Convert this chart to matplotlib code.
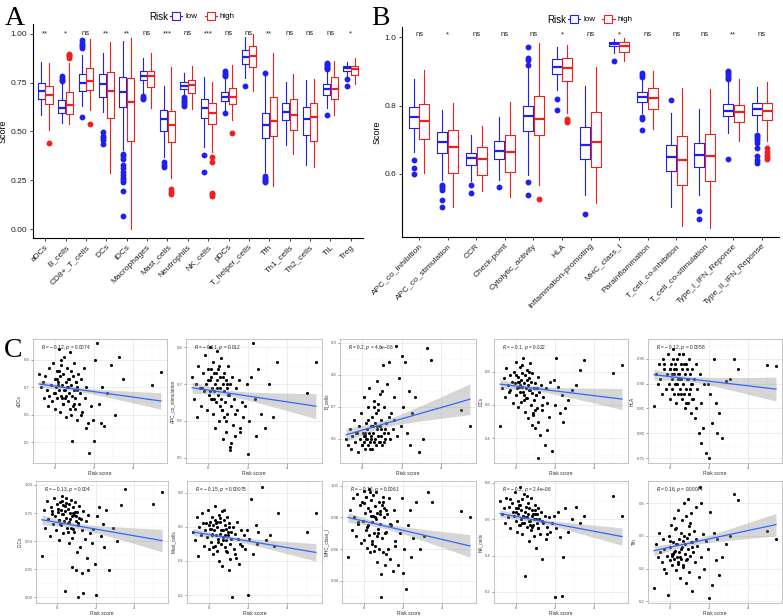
import numpy as np
import matplotlib
matplotlib.use('Agg')
from matplotlib import pyplot as plt
from matplotlib.lines import Line2D
from matplotlib.ticker import FormatStrFormatter, MultipleLocator

plt.rcParams['font.family'] = ['Liberation Sans', 'DejaVu Sans']

BLUE = '#1F1FF0'
RED = '#F02020'

# ---------------- panel A: immune cells (whislo, q1, med, q3, whishi) ----------------
cells = ['aDCs', 'B_cells', 'CD8+_T_cells', 'DCs', 'iDCs', 'Macrophages', 'Mast_cells',
         'Neutrophils', 'NK_cells', 'pDCs', 'T_helper_cells', 'Tfh', 'Th1_cells',
         'Th2_cells', 'TIL', 'Treg']
cells_sig = ['**', '*', 'ns', '**', '**', 'ns', '***', 'ns', '***', 'ns', 'ns', '**',
             'ns', 'ns', 'ns', '*']
cells_low = [
    [0.584, 0.664, 0.707, 0.746, 0.857],
    [0.542, 0.593, 0.622, 0.661, 0.745],
    [0.630, 0.707, 0.750, 0.794, 0.890],
    [0.600, 0.678, 0.743, 0.794, 0.900],
    [0.405, 0.623, 0.704, 0.777, 0.964],
    [0.690, 0.763, 0.784, 0.811, 0.877],
    [0.371, 0.504, 0.562, 0.610, 0.733],
    [0.690, 0.716, 0.734, 0.755, 0.797],
    [0.422, 0.567, 0.618, 0.668, 0.777],
    [0.610, 0.658, 0.678, 0.704, 0.775],
    [0.772, 0.843, 0.879, 0.917, 0.981],
    [0.290, 0.468, 0.533, 0.596, 0.790],
    [0.431, 0.559, 0.601, 0.644, 0.755],
    [0.329, 0.482, 0.562, 0.623, 0.763],
    [0.622, 0.687, 0.716, 0.741, 0.806],
    [0.784, 0.809, 0.823, 0.835, 0.857],
]
cells_low_out = [
    [],
    [0.785, 0.775, 0.765, 0.758],
    [0.967, 0.955, 0.945, 0.935, 0.925, 0.572],
    [0.495, 0.475, 0.465, 0.455, 0.435],
    [0.385, 0.375, 0.36, 0.33, 0.31, 0.29, 0.275, 0.26, 0.25, 0.24, 0.195, 0.065],
    [0.68, 0.672, 0.665],
    [0.345, 0.33, 0.32],
    [0.678, 0.668, 0.658, 0.648, 0.638, 0.628],
    [0.38, 0.29],
    [0.81, 0.80, 0.79, 0.785, 0.596],
    [0.734],
    [0.80, 0.27, 0.26, 0.25, 0.245, 0.24],
    [],
    [],
    [0.852, 0.845, 0.838, 0.831, 0.824, 0.818, 0.584],
    [0.766, 0.734],
]
cells_high = [
    [0.505, 0.642, 0.687, 0.734, 0.852],
    [0.538, 0.589, 0.634, 0.700, 0.850],
    [0.610, 0.712, 0.756, 0.826, 0.971],
    [0.286, 0.569, 0.705, 0.806, 0.956],
    [0.000, 0.453, 0.652, 0.775, 0.980],
    [0.618, 0.729, 0.782, 0.811, 0.903],
    [0.260, 0.445, 0.535, 0.605, 0.831],
    [0.613, 0.698, 0.736, 0.763, 0.835],
    [0.397, 0.537, 0.593, 0.644, 0.755],
    [0.560, 0.641, 0.678, 0.721, 0.840],
    [0.709, 0.831, 0.886, 0.939, 1.000],
    [0.218, 0.474, 0.555, 0.678, 0.900],
    [0.385, 0.508, 0.584, 0.666, 0.794],
    [0.320, 0.453, 0.572, 0.647, 0.768],
    [0.584, 0.666, 0.716, 0.777, 0.860],
    [0.743, 0.787, 0.820, 0.836, 0.877],
]
cells_high_out = [
    [0.44], [0.898, 0.892, 0.886, 0.878], [0.538], [], [], [],
    [0.205, 0.19, 0.18], [], [0.37, 0.345, 0.185, 0.178, 0.17], [0.494],
    [], [], [], [], [], [],
]

# ---------------- panel B: immune functions ----------------
funcs = ['APC_co_inhibition', 'APC_co_stimulation', 'CCR', 'Check-point',
         'Cytolytic_activity', 'HLA', 'Inflammation-promoting', 'MHC_class_I',
         'Parainflammation', 'T_cell_co-inhibition', 'T_cell_co-stimulation',
         'Type_I_IFN_Reponse', 'Type_II_IFN_Reponse']
funcs_sig = ['ns', '*', 'ns', 'ns', 'ns', '*', 'ns', '*', 'ns', 'ns', 'ns', '**', 'ns']
funcs_low = [
    [0.665, 0.734, 0.765, 0.795, 0.877],
    [0.582, 0.660, 0.692, 0.722, 0.787],
    [0.578, 0.626, 0.646, 0.662, 0.714],
    [0.582, 0.643, 0.668, 0.695, 0.765],
    [0.597, 0.726, 0.768, 0.799, 0.910],
    [0.846, 0.893, 0.914, 0.937, 0.970],
    [0.539, 0.644, 0.685, 0.736, 0.858],
    [0.953, 0.973, 0.980, 0.985, 0.995],
    [0.778, 0.811, 0.824, 0.840, 0.875],
    [0.504, 0.607, 0.648, 0.683, 0.778],
    [0.539, 0.619, 0.656, 0.690, 0.789],
    [0.721, 0.768, 0.785, 0.805, 0.870],
    [0.724, 0.773, 0.791, 0.807, 0.854],
]
funcs_low_out = [
    [0.641, 0.617, 0.600],
    [0.568, 0.563, 0.558, 0.553, 0.524, 0.504],
    [0.566, 0.545],
    [0.560],
    [0.970, 0.939, 0.932, 0.919, 0.575, 0.538],
    [0.819, 0.787],
    [0.483],
    [0.929],
    [0.895, 0.890, 0.885, 0.765, 0.760, 0.729],
    [0.815],
    [0.490, 0.467],
    [0.902, 0.897, 0.892, 0.887, 0.882, 0.877, 0.643],
    [0.715, 0.710, 0.705, 0.700, 0.690, 0.675, 0.652, 0.640, 0.633],
]
funcs_high = [
    [0.602, 0.701, 0.756, 0.804, 0.904],
    [0.502, 0.602, 0.680, 0.727, 0.807],
    [0.550, 0.597, 0.644, 0.680, 0.739],
    [0.532, 0.606, 0.665, 0.714, 0.810],
    [0.566, 0.714, 0.762, 0.829, 0.984],
    [0.778, 0.872, 0.909, 0.940, 0.976],
    [0.516, 0.621, 0.692, 0.782, 0.914],
    [0.931, 0.958, 0.975, 0.987, 0.997],
    [0.730, 0.789, 0.821, 0.851, 0.900],
    [0.448, 0.568, 0.641, 0.711, 0.851],
    [0.441, 0.580, 0.651, 0.717, 0.848],
    [0.695, 0.751, 0.780, 0.802, 0.877],
    [0.695, 0.758, 0.785, 0.807, 0.869],
]
funcs_high_out = [
    [], [], [], [], [0.526], [0.760, 0.756, 0.752], [], [], [], [], [], [],
    [0.677, 0.665, 0.655, 0.648, 0.643],
]

# ---------------- panel C: correlation with risk score ----------------
risk = [
    -0.8, -0.7, -0.62, -0.55, -0.48, -0.4, -0.33, -0.27, -0.21, -0.15,
    -0.1, -0.05, 0.0, 0.04, 0.08, 0.11, 0.14, 0.17, 0.2, 0.23,
    0.26, 0.29, 0.32, 0.35, 0.38, 0.41, 0.44, 0.47, 0.5, 0.53,
    0.56, 0.59, 0.62, 0.65, 0.68, 0.71, 0.74, 0.77, 0.8, 0.83,
    0.86, 0.89, 0.92, 0.95, 0.98, 1.01, 1.05, 1.09, 1.13, 1.17,
    1.21, 1.26, 1.31, 1.36, 1.42, 1.48, 1.55, 1.62, 1.7, 1.78,
    0.02, 0.15, 0.3, 0.45, 0.6, 0.75, 0.9, 1.03, 1.15, 1.35,
    0.1, 0.4, 0.7, 0.97, 0.22, 0.55, 0.82, 1.1, -0.3, 1.6,
    1.86, 1.95, 2.0, 2.05, 2.15, 2.25, 2.38, 2.45, 2.52, 2.7,
    2.9, 3.1, 3.3, 3.5, 5.0, 5.45]

sc_aDCs = [
    0.75, 0.70, 0.72, 0.66, 0.74, 0.69, 0.63, 0.77, 0.71, 0.65,
    0.79, 0.68, 0.73, 0.62, 0.70, 0.76, 0.66, 0.72, 0.84, 0.69,
    0.61, 0.74, 0.67, 0.78, 0.71, 0.64, 0.75, 0.69, 0.81, 0.66,
    0.72, 0.59, 0.70, 0.77, 0.65, 0.73, 0.68, 0.83, 0.62, 0.71,
    0.76, 0.67, 0.74, 0.63, 0.69, 0.79, 0.66, 0.72, 0.58, 0.70,
    0.75, 0.64, 0.68, 0.73, 0.61, 0.77, 0.66, 0.70, 0.57, 0.46,
    0.68, 0.71, 0.80, 0.64, 0.67, 0.73, 0.505, 0.62, 0.69, 0.60,
    0.73, 0.66, 0.70, 0.64, 0.76, 0.69, 0.60, 0.72, 0.67, 0.55,
    0.63, 0.58, 0.505, 0.80, 0.86, 0.64, 0.57, 0.70, 0.56, 0.68,
    0.78, 0.60, 0.81, 0.73, 0.71, 0.755]
sc_APC = [
    0.72, 0.66, 0.70, 0.61, 0.75, 0.69, 0.64, 0.73, 0.68, 0.78,
    0.70, 0.63, 0.74, 0.67, 0.71, 0.80, 0.66, 0.72, 0.69, 0.62,
    0.76, 0.68, 0.73, 0.58, 0.70, 0.65, 0.79, 0.71, 0.67, 0.74,
    0.60, 0.69, 0.72, 0.66, 0.77, 0.63, 0.70, 0.55, 0.68, 0.73,
    0.65, 0.71, 0.57, 0.69, 0.62, 0.75, 0.67, 0.53, 0.70, 0.64,
    0.72, 0.59, 0.66, 0.56, 0.69, 0.63, 0.71, 0.58, 0.65, 0.61,
    0.71, 0.74, 0.66, 0.69, 0.64, 0.72, 0.60, 0.67, 0.54, 0.62,
    0.68, 0.73, 0.63, 0.70, 0.66, 0.75, 0.61, 0.52, 0.69, 0.57,
    0.64, 0.70, 0.51, 0.60, 0.72, 0.81, 0.66, 0.56, 0.74, 0.62,
    0.58, 0.70, 0.61, 0.76, 0.676, 0.76]
sc_Bcells = [
    0.60, 0.58, 0.63, 0.57, 0.61, 0.66, 0.59, 0.62, 0.56, 0.64,
    0.60, 0.68, 0.58, 0.62, 0.73, 0.59, 0.61, 0.57, 0.65, 0.63,
    0.60, 0.70, 0.58, 0.62, 0.76, 0.59, 0.64, 0.61, 0.57, 0.67,
    0.62, 0.59, 0.72, 0.60, 0.65, 0.58, 0.78, 0.63, 0.61, 0.69,
    0.59, 0.64, 0.74, 0.61, 0.66, 0.58, 0.83, 0.62, 0.70, 0.60,
    0.65, 0.77, 0.62, 0.84, 0.60, 0.68, 0.63, 0.73, 0.89, 0.61,
    0.58, 0.62, 0.66, 0.60, 0.70, 0.64, 0.59, 0.75, 0.63, 0.67,
    0.61, 0.57, 0.68, 0.63, 0.60, 0.64, 0.71, 0.59, 0.62, 0.66,
    0.79, 0.64, 0.86, 0.70, 0.84, 0.62, 0.75, 0.58, 0.68, 0.73,
    0.56, 0.60, 0.885, 0.845, 0.69, 0.64]
sc_DCs = [
    0.47, 0.70, 0.76, 0.65, 0.82, 0.72, 0.68, 0.78, 0.74, 0.61,
    0.80, 0.73, 0.66, 0.86, 0.70, 0.77, 0.59, 0.74, 0.83, 0.68,
    0.75, 0.62, 0.79, 0.71, 0.88, 0.66, 0.73, 0.56, 0.78, 0.70,
    0.64, 0.81, 0.72, 0.52, 0.76, 0.69, 0.85, 0.60, 0.74, 0.67,
    0.79, 0.55, 0.70, 0.63, 0.46, 0.73, 0.66, 0.58, 0.77, 0.50,
    0.68, 0.42, 0.72, 0.57, 0.65, 0.36, 0.70, 0.61, 0.53, 0.74,
    0.78, 0.71, 0.84, 0.63, 0.75, 0.69, 0.54, 0.66, 0.28, 0.60,
    0.74, 0.68, 0.80, 0.57, 0.72, 0.64, 0.48, 0.70, 0.69, 0.45,
    0.32, 0.75, 0.60, 0.88, 0.71, 0.55, 0.66, 0.50, 0.58, 0.63,
    0.69, 0.72, 0.81, 0.87, 0.79, 0.84]
sc_HLA = [
    0.855, 0.92, 0.90, 0.94, 0.91, 0.88, 0.95, 0.93, 0.89, 0.92,
    0.96, 0.90, 0.93, 0.87, 0.94, 0.91, 0.89, 0.97, 0.92, 0.88,
    0.94, 0.90, 0.93, 0.86, 0.95, 0.91, 0.88, 0.96, 0.92, 0.89,
    0.91, 0.94, 0.87, 0.93, 0.90, 0.96, 0.88, 0.92, 0.85, 0.94,
    0.89, 0.93, 0.91, 0.86, 0.95, 0.88, 0.92, 0.84, 0.90, 0.93,
    0.87, 0.91, 0.83, 0.94, 0.89, 0.80, 0.92, 0.86, 0.81, 0.90,
    0.93, 0.95, 0.90, 0.92, 0.88, 0.94, 0.91, 0.89, 0.87, 0.85,
    0.92, 0.90, 0.96, 0.88, 0.93, 0.91, 0.86, 0.90, 0.94, 0.78,
    0.76, 0.90, 0.75, 0.88, 0.82, 0.95, 0.86, 0.80, 0.84, 0.79,
    0.905, 0.91, 0.95, 0.93, 0.937, 0.935]
sc_iDCs = [
    0.37, 0.78, 0.62, 0.86, 0.70, 0.55, 0.80, 0.74, 0.65, 0.88,
    0.72, 0.60, 0.83, 0.76, 0.51, 0.69, 0.85, 0.78, 0.64, 0.90,
    0.74, 0.57, 0.82, 0.68, 0.77, 0.06, 0.71, 0.88, 0.62, 0.79,
    0.66, 0.83, 0.48, 0.75, 0.70, 0.87, 0.27, 0.72, 0.61, 0.80,
    0.73, 0.58, 0.85, 0.24, 0.68, 0.76, 0.00, 0.64, 0.81, 0.45,
    0.70, 0.60, 0.22, 0.77, 0.52, 0.68, 0.35, 0.73, 0.57, 0.48,
    0.79, 0.65, 0.74, 0.84, 0.67, 0.53, 0.76, 0.40, 0.71, 0.04,
    0.69, 0.81, 0.62, 0.72, 0.86, 0.58, 0.75, 0.66, 0.77, 0.24,
    0.61, 0.30, 0.02, 0.72, 0.80, 0.55, 0.65, 0.45, 0.78, 0.24,
    0.62, 0.50, 0.82, 0.96, 0.83, 0.94]
sc_Mast = [
    0.57, 0.52, 0.66, 0.43, 0.60, 0.55, 0.68, 0.49, 0.58, 0.62,
    0.54, 0.70, 0.47, 0.59, 0.63, 0.51, 0.66, 0.56, 0.44, 0.61,
    0.58, 0.49, 0.72, 0.55, 0.62, 0.46, 0.60, 0.53, 0.67, 0.40,
    0.56, 0.63, 0.50, 0.69, 0.37, 0.58, 0.54, 0.64, 0.48, 0.61,
    0.52, 0.59, 0.45, 0.66, 0.55, 0.35, 0.62, 0.50, 0.57, 0.19,
    0.60, 0.47, 0.56, 0.42, 0.63, 0.53, 0.38, 0.58, 0.49, 0.55,
    0.61, 0.55, 0.64, 0.51, 0.58, 0.70, 0.46, 0.60, 0.53, 0.44,
    0.59, 0.63, 0.52, 0.57, 0.48, 0.65, 0.55, 0.41, 0.62, 0.50,
    0.47, 0.58, 0.20, 0.53, 0.76, 0.44, 0.61, 0.50, 0.57, 0.83,
    0.52, 0.55, 0.49, 0.68, 0.57, 0.68]
sc_MHC = [
    0.955, 0.985, 0.972, 0.992, 0.980, 0.968, 0.995, 0.976, 0.988, 0.964,
    0.990, 0.978, 0.966, 0.997, 0.983, 0.972, 0.993, 0.961, 0.986, 0.975,
    0.998, 0.969, 0.984, 0.958, 0.991, 0.977, 0.965, 0.994, 0.981, 0.970,
    0.987, 0.962, 0.979, 0.996, 0.952, 0.983, 0.973, 0.990, 0.960, 0.982,
    0.976, 0.944, 0.988, 0.967, 0.993, 0.958, 0.980, 0.950, 0.985, 0.971,
    0.982, 0.960, 0.992, 0.954, 0.975, 0.946, 0.985, 0.965, 0.978, 0.950,
    0.989, 0.974, 0.996, 0.963, 0.980, 0.970, 0.930, 0.986, 0.957, 0.976,
    0.993, 0.981, 0.968, 0.990, 0.975, 0.959, 0.984, 0.970, 0.977, 0.962,
    0.970, 0.992, 0.945, 0.960, 0.935, 0.975, 0.985, 0.955, 0.967, 0.990,
    0.960, 0.968, 0.996, 0.990, 0.984, 0.980]
sc_NK = [
    0.70, 0.63, 0.66, 0.58, 0.72, 0.61, 0.67, 0.55, 0.69, 0.64,
    0.62, 0.75, 0.59, 0.66, 0.53, 0.70, 0.63, 0.57, 0.68, 0.78,
    0.60, 0.65, 0.52, 0.71, 0.62, 0.58, 0.74, 0.64, 0.29, 0.67,
    0.61, 0.56, 0.69, 0.63, 0.48, 0.66, 0.59, 0.72, 0.54, 0.62,
    0.65, 0.57, 0.60, 0.51, 0.68, 0.63, 0.44, 0.58, 0.66, 0.55,
    0.60, 0.52, 0.64, 0.38, 0.58, 0.62, 0.49, 0.56, 0.61, 0.53,
    0.64, 0.68, 0.58, 0.61, 0.73, 0.57, 0.63, 0.60, 0.55, 0.59,
    0.66, 0.62, 0.59, 0.65, 0.57, 0.61, 0.56, 0.63, 0.71, 0.52,
    0.58, 0.62, 0.17, 0.55, 0.64, 0.50, 0.18, 0.39, 0.66, 0.53,
    0.60, 0.67, 0.58, 0.62, 0.73, 0.62]
sc_Tfh = [
    0.28, 0.55, 0.47, 0.62, 0.50, 0.44, 0.58, 0.52, 0.37, 0.48,
    0.24, 0.60, 0.45, 0.53, 0.67, 0.49, 0.42, 0.56, 0.71, 0.46,
    0.51, 0.64, 0.39, 0.55, 0.47, 0.76, 0.43, 0.58, 0.50, 0.34,
    0.62, 0.46, 0.53, 0.70, 0.41, 0.57, 0.80, 0.49, 0.55, 0.31,
    0.45, 0.59, 0.83, 0.52, 0.38, 0.66, 0.48, 0.74, 0.26, 0.56,
    0.50, 0.63, 0.44, 0.78, 0.54, 0.35, 0.90, 0.47, 0.61, 0.40,
    0.57, 0.49, 0.65, 0.44, 0.52, 0.60, 0.46, 0.68, 0.53, 0.58,
    0.48, 0.55, 0.42, 0.61, 0.50, 0.47, 0.72, 0.56, 0.40, 0.80,
    0.57, 0.52, 0.22, 0.75, 0.30, 0.62, 0.45, 0.58, 0.36, 0.47,
    0.55, 0.60, 0.86, 0.82, 0.63, 0.58]

sc_names = ['aDCs', 'APC_co_stimulation', 'B_cells', 'DCs', 'HLA',
            'iDCs', 'Mast_cells', 'MHC_class_I', 'NK_cells', 'Tfh']
sc_values = [sc_aDCs, sc_APC, sc_Bcells, sc_DCs, sc_HLA,
             sc_iDCs, sc_Mast, sc_MHC, sc_NK, sc_Tfh]
sc_stats = ['\u2212 0.12, $p$ = 0.0074', '\u2212 0.11, $p$ = 0.012', '0.2, $p$ = 4.6e\u221208',
            '\u2212 0.1, $p$ = 0.022', '\u2212 0.12, $p$ = 0.0058', '\u2212 0.13, $p$ = 0.004',
            '\u2212 0.15, $p$ = 0.00075', '\u2212 0.12, $p$ = 0.0061', '\u2212 0.2, $p$ = 2.4e\u221206',
            '0.16, $p$ = 0.00044']
# smooth line value at min / max risk score and half width of the band at the right end
fit_start = [0.712, 0.690, 0.613, 0.725, 0.918, 0.690, 0.570, 0.980, 0.632, 0.510]
fit_end = [0.650, 0.640, 0.724, 0.635, 0.889, 0.505, 0.450, 0.962, 0.505, 0.670]
band_end = [0.030, 0.034, 0.048, 0.063, 0.024, 0.100, 0.051, 0.0071, 0.048, 0.069]

# axis settings per scatter (ylim, ticks, decimals)
sc_ylim = [(0.424, 0.876), (0.486, 0.822), (0.525, 0.912), (0.25, 0.997), (0.74, 0.99),
           (-0.05, 1.035), (0.154, 0.868), (0.926, 1.003), (0.139, 0.811), (0.188, 0.938)]
sc_yticks = [[0.5, 0.6, 0.7, 0.8], [0.5, 0.6, 0.7, 0.8], [0.6, 0.7, 0.8, 0.9],
             [0.4, 0.6, 0.8], [0.75, 0.80, 0.85, 0.90, 0.95],
             [0.0, 0.25, 0.5, 0.75, 1.0], [0.2, 0.4, 0.6, 0.8],
             [0.94, 0.96, 0.98, 1.00], [0.2, 0.4, 0.6, 0.8], [0.2, 0.4, 0.6, 0.8]]
sc_dec = [1, 1, 1, 1, 2, 2, 1, 2, 1, 1]

W, H = 783, 616
fig = plt.figure(figsize=(W / 100, H / 100), dpi=100)


def px_axes(l, t, r, b):
    return fig.add_axes([l / W, 1 - b / H, (r - l) / W, (b - t) / H])


def draw_boxes(ax, names, low, low_out, high, high_out, sig, sig_y):
    pos = np.arange(1, len(names) + 1)
    for stats, outs, off, col in [(low, low_out, -0.1875, BLUE), (high, high_out, 0.1875, RED)]:
        st = [dict(whislo=s[0], q1=s[1], med=s[2], q3=s[3], whishi=s[4], fliers=o)
              for s, o in zip(stats, outs)]
        ax.bxp(st, positions=pos + off, widths=0.35, showcaps=False,
               boxprops=dict(color=col, lw=0.8), whiskerprops=dict(color=col, lw=0.8),
               medianprops=dict(color=col, lw=1.6),
               flierprops=dict(marker='o', mfc=col, mec=col, ms=3.2, ls='none'))
    for p, s in zip(pos, sig):
        ax.text(p, sig_y, s, ha='center', va='center', fontsize=5.5, color='#222222')
    ax.set_xticks(pos)
    ax.set_xticklabels(names, rotation=45, ha='right', va='top', rotation_mode='anchor')
    ax.set_xlim(0.4, len(names) + 0.6)
    for sp in ['top', 'right']:
        ax.spines[sp].set_visible(False)
    for sp in ['left', 'bottom']:
        ax.spines[sp].set_linewidth(0.8)
    ax.tick_params(labelsize=6, colors='#222222', length=2.5, width=0.6, pad=1.5)
    ax.set_ylabel('Score', fontsize=6.5, labelpad=2)


def risk_legend(ax, x):
    ax.text(x, 1.035, 'Risk', transform=ax.transAxes, ha='right', va='center', fontsize=7)
    h = [Line2D([], [], color=BLUE, lw=0.8, marker='s', ms=5.5, mfc='white', mec=BLUE, mew=0.8),
         Line2D([], [], color=RED, lw=0.8, marker='s', ms=5.5, mfc='white', mec=RED, mew=0.8)]
    ax.legend(h, ['low', 'high'], ncol=2, frameon=False, fontsize=5.8, handlelength=1.5,
              handletextpad=0.4, columnspacing=0.9, loc='center left',
              bbox_to_anchor=(x + 0.005, 1.035), borderaxespad=0, borderpad=0)


# panel A
axA = px_axes(33, 24, 363, 238)
draw_boxes(axA, cells, cells_low, cells_low_out, cells_high, cells_high_out, cells_sig, 1.0)
axA.set_ylim(-0.046, 1.05)
axA.set_yticks([0, 0.25, 0.5, 0.75, 1.0])
axA.yaxis.set_major_formatter(FormatStrFormatter('%.2f'))
risk_legend(axA, 0.41)

# panel B
axB = px_axes(402, 27, 779, 237)
draw_boxes(axB, funcs, funcs_low, funcs_low_out, funcs_high, funcs_high_out, funcs_sig, 1.007)
axB.set_ylim(0.415, 1.03)
axB.set_yticks([0.6, 0.8, 1.0])
axB.yaxis.set_major_formatter(FormatStrFormatter('%.1f'))
risk_legend(axB, 0.435)

# panel C
cols_r1 = [(33, 167), (186, 322), (340, 476), (494, 628), (648, 782)]
cols_r2 = [(36, 168), (187, 322), (342, 476), (494, 628), (648, 782)]
boxes = [(l, 339, r, 463) for l, r in cols_r1] + [(l, 481, r, 603) for l, r in cols_r2]

rx = np.array(risk)
xs = np.linspace(rx.min(), rx.max(), 100)
se = np.sqrt(1 / len(rx) + (xs - rx.mean()) ** 2 / ((rx - rx.mean()) ** 2).sum())
se = se / se[-1]

for i in range(10):
    ax = px_axes(*boxes[i])
    ax.scatter(risk, sc_values[i], s=5, c='black', lw=0, zorder=2)
    yline = np.interp(xs, [rx.min(), rx.max()], [fit_start[i], fit_end[i]])
    ax.fill_between(xs, yline - band_end[i] * se, yline + band_end[i] * se,
                    color='#999999', alpha=0.4, lw=0, zorder=3)
    ax.plot(xs, yline, color='#3366FF', lw=0.9, zorder=4)
    ax.set_xlim(-1.11, 5.76)
    ax.set_ylim(*sc_ylim[i])
    ax.set_xticks([0, 2, 4])
    ax.xaxis.set_minor_locator(MultipleLocator(1))
    yt = sc_yticks[i]
    ax.set_yticks(yt)
    ax.yaxis.set_minor_locator(MultipleLocator((yt[1] - yt[0]) / 2))
    ax.yaxis.set_major_formatter(FormatStrFormatter('%%.%df' % sc_dec[i]))
    ax.set_axisbelow(True)
    ax.grid(which='major', color='#E6E6E6', lw=0.5)
    ax.grid(which='minor', color='#F2F2F2', lw=0.3)
    for sp in ax.spines.values():
        sp.set_color('#BBBBBB')
        sp.set_linewidth(0.6)
    ax.tick_params(which='both', labelsize=3, colors='#555555', length=1.2, width=0.4, pad=1)
    ax.tick_params(which='minor', length=0)
    ax.set_xlabel('Risk score', fontsize=3.6, labelpad=1, color='#333333')
    ax.set_ylabel(sc_names[i], fontsize=3.4, labelpad=1.5, color='#333333')
    ax.text(0.06, 0.93, '$R$ = ' + sc_stats[i], transform=ax.transAxes,
            fontsize=3.4, ha='left', va='center', color='#222222')

for lab, x, y in [('A', 5, 25), ('B', 371, 25), ('C', 4, 357)]:
    fig.text(x / W, 1 - y / H, lab, fontsize=20, family='Liberation Serif',
             ha='left', va='baseline')

fig.savefig('out.png', dpi=100)
